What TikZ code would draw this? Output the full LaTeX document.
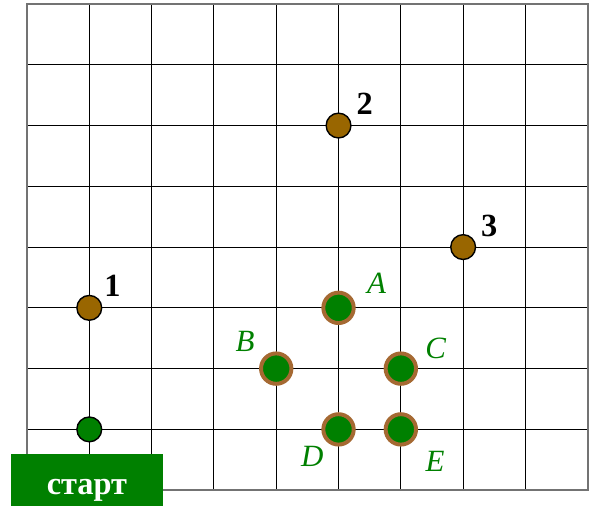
\documentclass[tikz,border=0pt]{standalone}
\usepackage{fontspec}
\setmainfont{Liberation Serif}
\usetikzlibrary{positioning,calc}
\definecolor{TreeGreen}{RGB}{0,128,0}
\definecolor{NutBrown}{RGB}{153,102,0}
\definecolor{RingBrown}{RGB}{165,105,50}

\begin{document}
\begin{tikzpicture}[x=1.5575cm,y=1.519cm,
  gridline/.style={black,line width=0.8pt},
  nut/.style={circle,draw=black,line width=1pt,fill=NutBrown,minimum size=0.62cm,inner sep=0pt},
  startdot/.style={nut,fill=TreeGreen},
  tree/.style={circle,draw=RingBrown,line width=2.8pt,fill=TreeGreen,minimum size=0.76cm,inner sep=0pt},
  numlabel/.style={font=\fontsize{23}{26}\selectfont\bfseries},
  letlabel/.style={text=TreeGreen,font=\fontsize{22}{26}\selectfont\itshape},
  startbox/.style={fill=TreeGreen,text=white,minimum width=3.8cm,minimum height=1.3cm,
    inner sep=0pt,text height=20pt,text depth=0pt,font=\fontsize{23}{26}\selectfont\bfseries}]
  \useasboundingbox (-0.433,-0.263) rectangle (9.02,8.066);
  \draw[gridline,step={(1,1)}] (0,0) grid (9,8);
  \draw[black!55,line width=1.2pt] (0,0) rectangle (9,8);
  % nuts
  \node[nut] (n1) at (1,3) {};
  \node[nut] (n2) at (5,6) {};
  \node[nut] (n3) at (7,4) {};
  \node[numlabel] at ($(n1)+(0.37,0.36)$) {1};
  \node[numlabel] at ($(n2)+(0.42,0.36)$) {2};
  \node[numlabel] at ($(n3)+(0.42,0.35)$) {3};
  % trees
  \node[tree] (A) at (5,3) {};
  \node[tree] (B) at (4,2) {};
  \node[tree] (C) at (6,2) {};
  \node[tree] (D) at (5,1) {};
  \node[tree] (E) at (6,1) {};
  \node[letlabel] at ($(A)+(0.61,0.40)$) {A};
  \node[letlabel] at ($(B)+(-0.50,0.44)$) {B};
  \node[letlabel] at ($(C)+(0.56,0.33)$) {C};
  \node[letlabel] at ($(D)+(-0.42,-0.44)$) {D};
  \node[letlabel] at ($(E)+(0.55,-0.53)$) {E};
  % start
  \node[startdot] (s) at (1,1) {};
  \node[startbox] (start) at (0.963,0.165) {старт};
\end{tikzpicture}
\end{document}
